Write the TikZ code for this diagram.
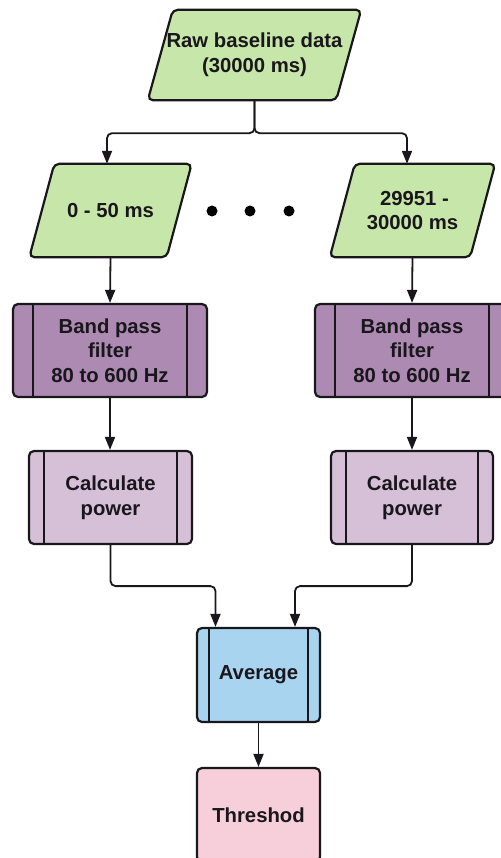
\documentclass[tikz,border=0pt]{standalone}
\usepackage{fontspec}
\setmainfont{Liberation Sans}
\usetikzlibrary{arrows.meta,backgrounds,calc}
\definecolor{ink}{HTML}{1A171C}
\definecolor{gfill}{HTML}{C7E6AA}
\definecolor{pdark}{HTML}{AC8AB2}
\definecolor{plight}{HTML}{D6C0D8}
\definecolor{bfill}{HTML}{A8D4F0}
\definecolor{pkfill}{HTML}{F7CFDB}
\begin{document}
\begin{tikzpicture}[x=1pt,y=-1pt,
  txt/.style={font=\fontsize{20.3}{24.5}\selectfont\bfseries, text=ink, align=center},
  para/.style n args={2}{txt, minimum width=#1, minimum height=#2, inner sep=0pt},
  box/.style n args={2}{txt, draw=ink, line width=2.2pt, rounded corners=5pt,
     minimum width=#1, minimum height=#2, inner sep=0pt},
  proc/.style n args={4}{box={#1}{#2}, fill=#4,
     path picture={
       \draw[ink, line width=2.2pt]
         ([xshift=#3]path picture bounding box.north west) -- ([xshift=#3]path picture bounding box.south west)
         ([xshift=-#3]path picture bounding box.north east) -- ([xshift=-#3]path picture bounding box.south east);}},
  parashape/.style={draw=ink, line width=2.2pt, rounded corners=5pt, fill=gfill},
  arr/.style={draw=ink, line width=1.8pt, rounded corners=5pt, -{Triangle[length=13pt,width=10pt]}},
  dot/.style={circle, fill=black, inner sep=0pt, minimum size=11pt}
]
\useasboundingbox (0,0) rectangle (500,858);

% parallelograms (data)
\node[para={188}{90}] (raw) at (254.5,55) {Raw baseline data\\(30000 ms)};
\node[para={137}{93}] (lp) at (110.5,210.5) {0 - 50 ms};
\node[para={140}{93}] (rp) at (412.5,210.5) {\hspace*{4pt}29951 -\\30000 ms};

\begin{scope}[on background layer]
  \foreach \n in {raw,lp,rp}{
    \draw[parashape] ($(\n.south west)+(-12.5,0)$) -- ($(\n.north west)+(12.5,0)$)
      -- ($(\n.north east)+(12.5,0)$) -- ($(\n.south east)+(-12.5,0)$) -- cycle;
  }
\end{scope}

% dots
\node[dot] (d1) at (212,211) {};
\node[dot] (d2) at (250,211) {};
\node[dot] (d3) at (289,211) {};

% processes
\node[proc={194}{93}{20}{pdark}] (bl) at (110,350.5) {Band pass\\filter\\80 to 600 Hz};
\node[proc={194}{93}{20}{pdark}] (br) at (412,350.5) {Band pass\\filter\\80 to 600 Hz};
\node[proc={163}{93}{15}{plight}] (cl) at (110.5,497.5) {Calculate\\power};
\node[proc={162}{93}{15}{plight}] (cr) at (412,497.5) {Calculate\\power};
\node[proc={123}{94}{12}{bfill}] (avg) at (258.5,675) {Average};
\node[box={123}{94}, fill=pkfill] (thr) at (258.5,815) {Threshod};

% connectors
\draw[arr] (raw.south) -- ++(0,33) -| ([xshift=-3.5]lp.north);
\draw[arr] (raw.south) -- ++(0,33) -| ([xshift=-5.5]rp.north);
\draw[arr] (lp.south) -- (bl.north);
\draw[arr] (rp.south) -- (br.north);
\draw[arr] (bl.south) -- (bl.south |- cl.north);
\draw[arr] (br.south) -- (cr.north);
\draw[arr] (cl.south) -- ++(0,41) -| ([xshift=-43]avg.north);
\draw[arr] (cr.south) -- ++(0,41) -| ([xshift=36.5]avg.north);
\draw[arr] (avg.south) -- (thr.north);
\end{tikzpicture}
\end{document}
